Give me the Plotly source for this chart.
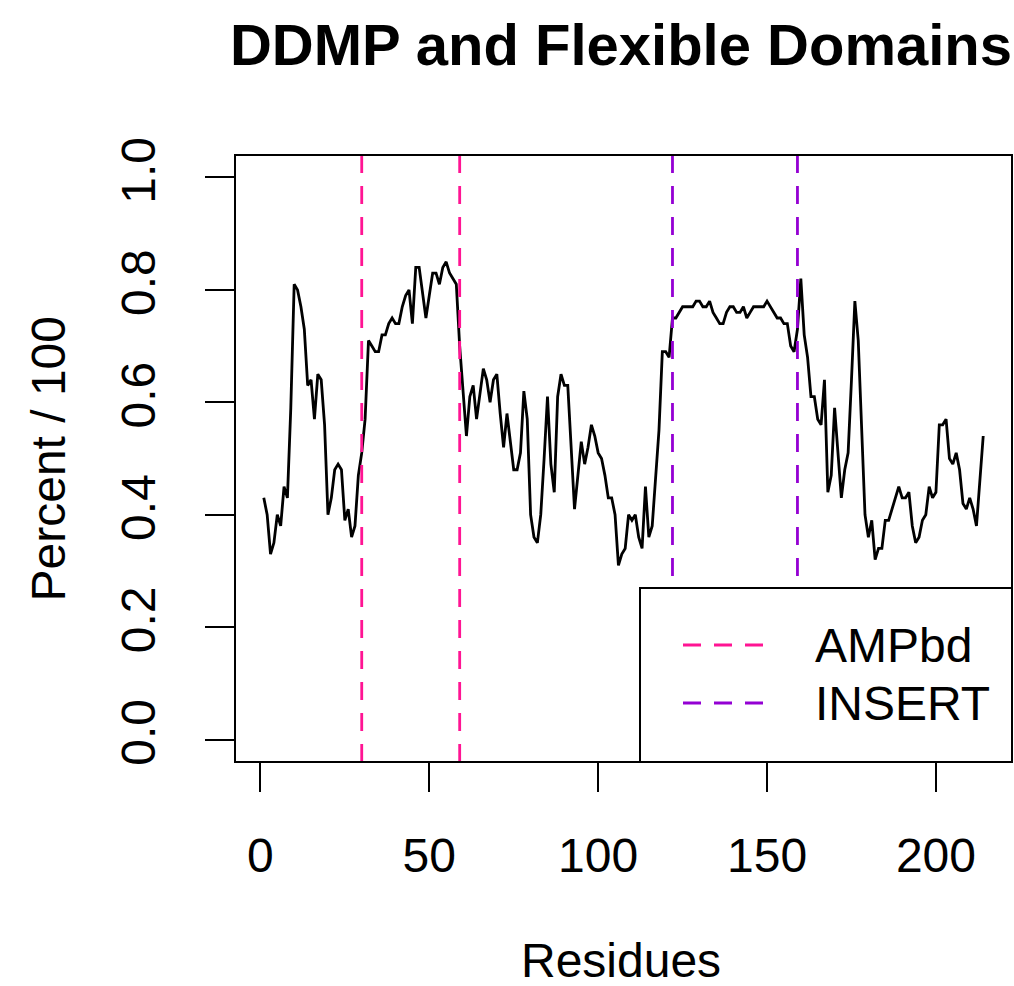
import plotly.graph_objects as go

# ---------------- data ----------------
residues = list(range(1, 215))
percent = [
    0.43, 0.40, 0.33, 0.35, 0.40, 0.38, 0.45, 0.43, 0.59, 0.81,
    0.80, 0.77, 0.73, 0.63, 0.64, 0.57, 0.65, 0.64, 0.56, 0.40,
    0.43, 0.48, 0.49, 0.48, 0.39, 0.41, 0.36, 0.38, 0.47, 0.51,
    0.57, 0.71, 0.70, 0.69, 0.69, 0.72, 0.72, 0.74, 0.75, 0.74,
    0.74, 0.77, 0.79, 0.80, 0.74, 0.84, 0.84, 0.79, 0.75, 0.79,
    0.83, 0.83, 0.81, 0.84, 0.85, 0.83, 0.82, 0.81, 0.70, 0.62,
    0.54, 0.61, 0.63, 0.57, 0.62, 0.66, 0.64, 0.60, 0.64, 0.65,
    0.58, 0.52, 0.58, 0.53, 0.48, 0.48, 0.51, 0.62, 0.57, 0.40,
    0.36, 0.35, 0.40, 0.50, 0.61, 0.49, 0.44, 0.61, 0.65, 0.63,
    0.63, 0.52, 0.41, 0.47, 0.53, 0.49, 0.52, 0.56, 0.54, 0.51,
    0.50, 0.47, 0.43, 0.43, 0.40, 0.31, 0.33, 0.34, 0.40, 0.39,
    0.40, 0.36, 0.34, 0.45, 0.36, 0.38, 0.46, 0.55, 0.69, 0.69,
    0.68, 0.75, 0.75, 0.76, 0.77, 0.77, 0.77, 0.77, 0.78, 0.78,
    0.77, 0.77, 0.78, 0.76, 0.75, 0.74, 0.74, 0.76, 0.77, 0.77,
    0.76, 0.76, 0.77, 0.75, 0.76, 0.77, 0.77, 0.77, 0.77, 0.78,
    0.77, 0.76, 0.75, 0.75, 0.74, 0.74, 0.70, 0.69, 0.73, 0.82,
    0.72, 0.68, 0.61, 0.61, 0.57, 0.56, 0.64, 0.44, 0.47, 0.59,
    0.51, 0.43, 0.48, 0.51, 0.64, 0.78, 0.71, 0.55, 0.40, 0.36,
    0.39, 0.32, 0.34, 0.34, 0.39, 0.39, 0.41, 0.43, 0.45, 0.43,
    0.43, 0.44, 0.38, 0.35, 0.36, 0.39, 0.40, 0.45, 0.43, 0.44,
    0.56, 0.56, 0.57, 0.50, 0.49, 0.51, 0.48, 0.42, 0.41, 0.43,
    0.41, 0.38, 0.46, 0.54,
]
amp_bounds = [30, 59]
insert_bounds = [122, 159]
legend_labels = ["AMPbd", "INSERT"]
x_ticks = [0, 50, 100, 150, 200]
y_ticks = [0.0, 0.2, 0.4, 0.6, 0.8, 1.0]

# ---------------- style ----------------
FONT = "Liberation Sans, Arial, Helvetica, sans-serif"
PINK = "#FF1493"
PURPLE = "#9400D3"
DASH = "18px,13px"
LW = 2.8

fig = go.Figure()
fig.add_trace(go.Scatter(
    x=residues, y=percent, mode="lines",
    line=dict(color="black", width=LW),
    showlegend=False, hoverinfo="skip",
))

for xb in amp_bounds:
    fig.add_shape(type="line", xref="x", yref="paper", x0=xb, x1=xb, y0=0, y1=1,
                  line=dict(color=PINK, width=LW, dash=DASH))
for xb in insert_bounds:
    fig.add_shape(type="line", xref="x", yref="paper", x0=xb, x1=xb, y0=0, y1=1,
                  line=dict(color=PURPLE, width=LW, dash=DASH))

# plot geometry (pixels) used for legend placement in paper coordinates
L, R, T, B = 235, 1012, 155, 762
W, H = R - L, B - T

def px(x):
    return (x - L) / W

def py(y):
    return (B - y) / H

# legend box (white, covers the vertical lines)
fig.add_shape(type="rect", xref="paper", yref="paper",
              x0=px(640), x1=1, y0=0, y1=py(588),
              line=dict(color="black", width=2), fillcolor="white", layer="above")
for lab, col, yy in zip(legend_labels, [PINK, PURPLE], [645, 703]):
    fig.add_shape(type="line", xref="paper", yref="paper",
                  x0=px(683), x1=px(765), y0=py(yy), y1=py(yy),
                  line=dict(color=col, width=LW, dash=DASH))
    fig.add_annotation(xref="paper", yref="paper", x=px(813), y=py(yy),
                       text=lab, showarrow=False, xanchor="left", yanchor="middle",
                       font=dict(size=48, color="black", family=FONT))

# plot box
fig.add_shape(type="rect", xref="paper", yref="paper", x0=0, x1=1, y0=0, y1=1,
              line=dict(color="black", width=2), layer="above")

# axis titles
fig.add_annotation(xref="paper", yref="paper", x=px(621), y=py(960),
                   text="Residues", showarrow=False, xanchor="center", yanchor="middle",
                   font=dict(size=48, color="black", family=FONT))
fig.add_annotation(xref="paper", yref="paper", x=px(48), y=0.5,
                   text="Percent / 100", showarrow=False, textangle=-90,
                   xanchor="center", yanchor="middle",
                   font=dict(size=48, color="black", family=FONT))

fig.update_layout(
    width=1014, height=986,
    margin=dict(l=L, r=1014 - R, t=T, b=986 - B, pad=0),
    paper_bgcolor="white", plot_bgcolor="white",
    font=dict(family=FONT, color="black", size=48),
    title=dict(text="<b>DDMP and Flexible Domains</b>", x=621 / 1014, y=1 - 45 / 986,
               xanchor="center", yanchor="middle",
               font=dict(size=58, family=FONT, color="black")),
    xaxis=dict(range=[-7.52, 222.52], tickvals=x_ticks, ticktext=[str(v) for v in x_ticks],
               showgrid=False, zeroline=False, showline=False,
               ticks="outside", ticklen=29, tickwidth=2, tickcolor="black",
               ticklabelstandoff=22, tickfont=dict(size=48)),
    yaxis=dict(range=[-0.04, 1.04], tickvals=y_ticks, ticktext=[f"{v:.1f}" for v in y_ticks],
               showgrid=False, zeroline=False, showline=False,
               ticks="outside", ticklen=29, tickwidth=2, tickcolor="black",
               tickangle=-90, ticklabelstandoff=31, tickfont=dict(size=48)),
)

fig.write_html("out.html")
